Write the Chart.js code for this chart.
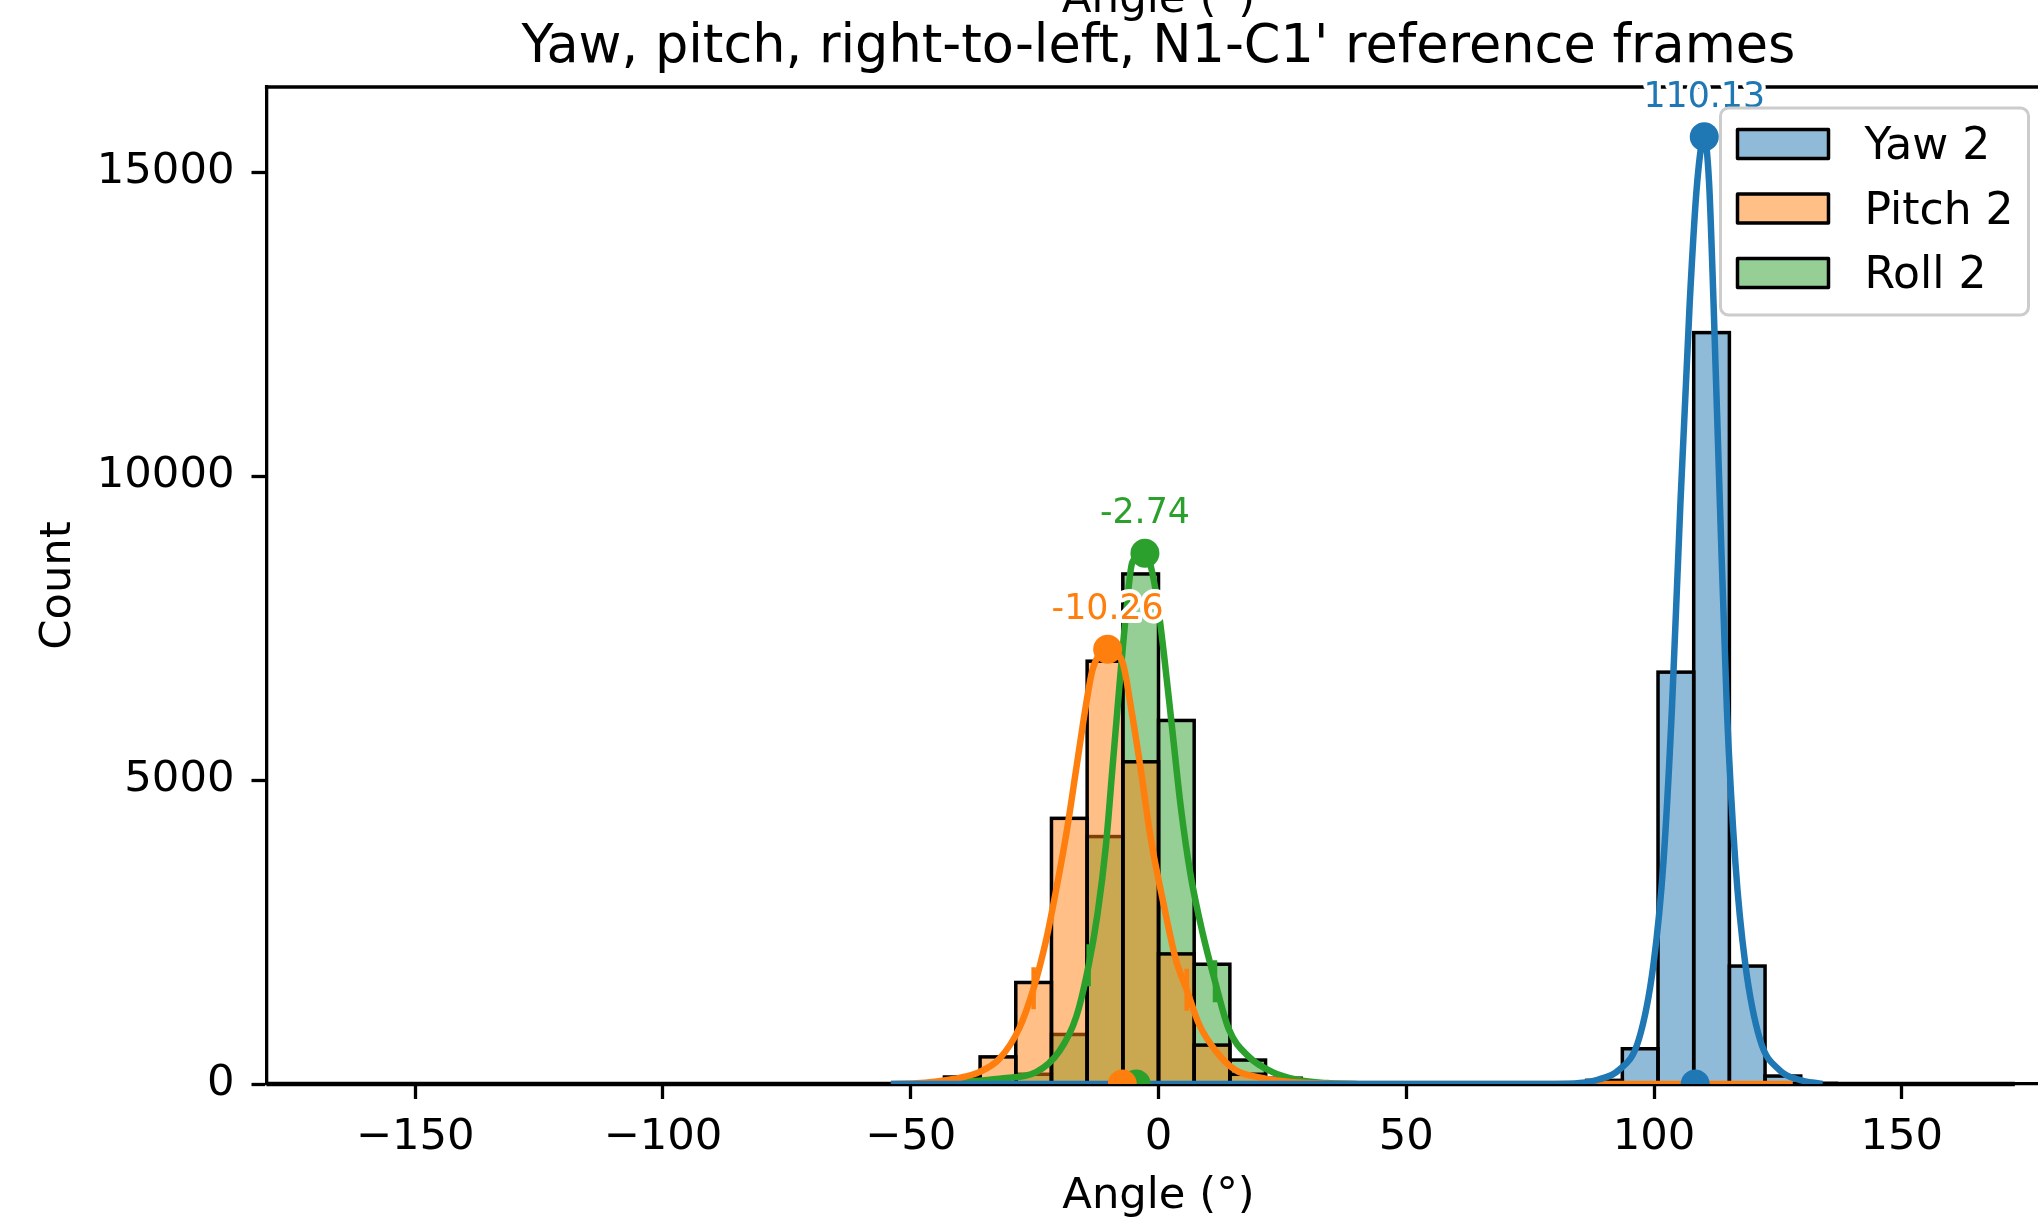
<!DOCTYPE html>
<html>
<head>
<meta charset="utf-8">
<title>Yaw, pitch, right-to-left, N1-C1' reference frames</title>
<script src="https://cdn.jsdelivr.net/npm/chart.js@4.4.1/dist/chart.umd.min.js"></script>
<style>
  html, body { margin: 0; padding: 0; background: #fff; overflow: hidden; }
  #wrap { width: 2076px; height: 1223px; }
  canvas { display: block; }
</style>
</head>
<body>
<div id="wrap"><canvas id="chart" width="2076" height="1223" style="width:2076px;height:1223px"></canvas></div>
<script>
// histogram bins (start of each bin, 7.2 deg wide)
var binWidth = 7.2;
var histRange = [-180, 172.8];

var yawBins = [86.4, 93.6, 100.8, 108, 115.2, 122.4, 129.6];
var yawCounts = [60, 580, 6775, 12360, 1940, 131, 10];

var pitchBins = [-50.4, -43.2, -36, -28.8, -21.6, -14.4, -7.2, 0, 7.2, 14.4, 21.6];
var pitchCounts = [10, 115, 446, 1670, 4370, 6955, 5300, 2140, 640, 160, 30];

var rollBins = [-43.2, -36, -28.8, -21.6, -14.4, -7.2, 0, 7.2, 14.4, 21.6, 28.8];
var rollCounts = [5, 25, 160, 815, 4070, 8390, 5980, 1970, 394, 95, 10];

// kde curves
var yawKdeX = [-54, 80, 85, 88.8, 92.8, 96.9, 99.9, 101.9, 103.6, 105.3, 107.2, 108.7, 110.13, 111.1, 112.0, 113.3, 114.7, 116.4, 118.4, 121.4, 125.4, 129.1, 134];
var yawKdeY = [0, 0, 15, 74, 223, 725, 1980, 3654, 6164, 9513, 12859, 14830, 15580, 14830, 12859, 9513, 6164, 3654, 1980, 725, 223, 74, 0];

var pitchKdeX = [-54, -48, -44, -40.2, -36.2, -32.1, -28.1, -25.2, -22.7, -20.7, -18.6, -16.6, -14.6, -13.3, -10.26, -7.3, -5.3, -3.6, -1.6, 0.8, 3.5, 5.7, 8.2, 11.6, 15.6, 20.3, 24.3, 30, 40, 128];
var pitchKdeY = [0, 15, 50, 100, 195, 415, 917, 1575, 2360, 3175, 4117, 5185, 6252, 6817, 7150, 6943, 6064, 5185, 4055, 3051, 2047, 1550, 979, 540, 226, 110, 55, 15, 2, 0];

var rollKdeX = [-45, -40.2, -32.1, -24.7, -20.0, -16.6, -14.1, -12.3, -10.6, -9.3, -8.0, -6.6, -5.3, -2.74, -0.6, 1.1, 2.8, 4.5, 6.5, 8.9, 11.4, 14.2, 18.2, 22.9, 28, 34, 40];
var rollKdeY = [0, 30, 88, 195, 540, 1105, 1952, 2800, 3930, 5185, 6440, 7696, 8575, 8730, 8135, 7069, 5813, 4556, 3428, 2485, 1690, 900, 450, 200, 70, 15, 0];

// peaks [angle, count], bottom marks, and the short marks on the curves
var yawPeak = [110.13, 15580];
var pitchPeak = [-10.26, 7150];
var rollPeak = [-2.74, 8730];
var yawMid = 108.3, pitchMid = -7.3, rollMid = -4.5;
var pitchMarksX = [-25.2, 5.7], pitchMarksY = [1575, 1550];
var rollMarksX = [-14.1, 11.4], rollMarksY = [1952, 1690];

var xTicks = [-150, -100, -50, 0, 50, 100, 150];
var yTicks = [0, 5000, 10000, 15000];
var yMax = 16400;

var blue = '#1f77b4', orange = '#ff7f0e', green = '#2ca02c';
var FONT = 'DejaVu Sans';

function bins(starts, counts) {
	return starts.map(function (s, i) { return {x: s + binWidth / 2, y: counts[i]}; });
}
function pts(xs, ys) {
	return xs.map(function (x, i) { return {x: x, y: ys[i]}; });
}
function fade(hex) {
	var n = parseInt(hex.slice(1), 16);
	return 'rgba(' + (n >> 16) + ',' + ((n >> 8) & 255) + ',' + (n & 255) + ',0.5)';
}
function barSet(label, starts, counts, color, order) {
	return {
		type: 'bar', label: label, data: bins(starts, counts),
		backgroundColor: fade(color), borderWidth: 0, hist: true,
		grouped: false, barPercentage: 1, categoryPercentage: 1, order: order
	};
}
function kdeSet(xs, ys, color, order) {
	return {
		type: 'line', data: pts(xs, ys), borderColor: color, borderWidth: 6.5,
		pointRadius: 0, cubicInterpolationMode: 'monotone', fill: false, order: order
	};
}
function dotSet(points, color, peak) {
	return {
		type: 'line', data: points, showLine: false, pointRadius: 14.5,
		pointBackgroundColor: color, pointBorderWidth: 0, clip: 0, order: 0, peak: peak
	};
}
function markSet(xs, ys, color) {
	return {
		type: 'line', data: pts(xs, ys), showLine: false, pointStyle: 'line',
		pointRotation: 90, pointRadius: 21, pointBorderWidth: 4.5, pointBorderColor: color, order: 0
	};
}

var extras = {
	id: 'extras',
	afterDatasetDraw: function (chart, args) {
		var ds = chart.data.datasets[args.index];
		if (!ds.hist) return;
		var ctx = chart.ctx;
		ctx.save();
		ctx.strokeStyle = '#000';
		ctx.lineWidth = 3.5;
		args.meta.data.forEach(function (bar) {
			var p = bar.getProps(['x', 'y', 'base', 'width'], true);
			ctx.strokeRect(p.x - p.width / 2, p.y, p.width, p.base - p.y);
		});
		ctx.restore();
	},
	afterDraw: function (chart) {
		var ctx = chart.ctx, a = chart.chartArea;
		var xs = chart.scales.x, ys = chart.scales.y;
		var cx = (a.left + a.right) / 2;
		ctx.save();
		// top spine
		ctx.strokeStyle = '#000';
		ctx.lineWidth = 3.3;
		ctx.beginPath();
		ctx.moveTo(a.left - 1.6, a.top);
		ctx.lineTo(a.right, a.top);
		ctx.stroke();

		ctx.fillStyle = '#000';
		ctx.textAlign = 'center';
		ctx.textBaseline = 'alphabetic';
		ctx.font = '43.5px "' + FONT + '"';
		ctx.fillText('Angle (°)', cx, 12);
		ctx.font = '52.5px "' + FONT + '"';
		ctx.fillText("Yaw, pitch, right-to-left, N1-C1' reference frames", cx, 62);

		// peak labels
		ctx.font = '34.8px "' + FONT + '"';
		ctx.lineJoin = 'round';
		chart.data.datasets.forEach(function (ds) {
			if (!ds.peak) return;
			var px = xs.getPixelForValue(ds.data[0].x);
			var py = ys.getPixelForValue(ds.data[0].y) - 30;
			var txt = ds.data[0].x.toFixed(2);
			ctx.strokeStyle = '#fff';
			ctx.lineWidth = 8;
			ctx.strokeText(txt, px, py);
			ctx.fillStyle = ds.pointBackgroundColor;
			ctx.fillText(txt, px, py);
		});

		// legend
		var right = a.right - 22, top = a.top + 21;
		var left = right - 308, bottom = top + 207;
		ctx.beginPath();
		ctx.roundRect(left, top, right - left, bottom - top, 8);
		ctx.fillStyle = 'rgba(255,255,255,0.8)';
		ctx.fill();
		ctx.strokeStyle = '#cccccc';
		ctx.lineWidth = 3;
		ctx.stroke();
		ctx.font = '44px "' + FONT + '"';
		ctx.textAlign = 'left';
		var row = 0;
		chart.data.datasets.forEach(function (ds) {
			if (!ds.hist) return;
			var mid = top + 36 + row * 64.5;
			ctx.fillStyle = ds.backgroundColor;
			ctx.fillRect(left + 17, mid - 14.5, 91, 29);
			ctx.strokeStyle = '#000';
			ctx.lineWidth = 3.5;
			ctx.strokeRect(left + 17, mid - 14.5, 91, 29);
			ctx.fillStyle = '#000';
			ctx.fillText(ds.label, left + 144, mid + 15);
			row++;
		});
		ctx.restore();
	}
};

var tickFont = {family: FONT, size: 43.3};

new Chart(document.getElementById('chart'), {
	type: 'bar',
	data: {
		datasets: [
			barSet('Yaw 2', yawBins, yawCounts, blue, 7),
			barSet('Pitch 2', pitchBins, pitchCounts, orange, 5),
			barSet('Roll 2', rollBins, rollCounts, green, 6),
			{
				type: 'line', data: pts(histRange, [0, 0]), borderColor: '#000', borderWidth: 4.5,
				pointRadius: 0, clip: 4, order: 4
			},
			kdeSet(yawKdeX, yawKdeY, blue, 1),
			kdeSet(pitchKdeX, pitchKdeY, orange, 2),
			kdeSet(rollKdeX, rollKdeY, green, 3),
			dotSet([{x: yawPeak[0], y: yawPeak[1]}], blue, true),
			dotSet([{x: pitchPeak[0], y: pitchPeak[1]}], orange, true),
			dotSet([{x: rollPeak[0], y: rollPeak[1]}], green, true),
			dotSet([{x: yawMid, y: 0}], blue, false),
			dotSet([{x: pitchMid, y: 0}], orange, false),
			dotSet([{x: rollMid, y: 0}], green, false),
			markSet(pitchMarksX, pitchMarksY, orange),
			markSet(rollMarksX, rollMarksY, green)
		]
	},
	options: {
		responsive: false,
		animation: false,
		layout: {padding: {top: 87, right: 8, left: 0, bottom: 0}},
		plugins: {legend: {display: false}, tooltip: {enabled: false}},
		scales: {
			x: {
				type: 'linear', min: -180, max: 180, offset: false,
				afterBuildTicks: function (s) { s.ticks = xTicks.map(function (v) { return {value: v}; }); },
				afterFit: function (s) { s.height = 139; },
				ticks: {
					font: tickFont, color: '#000', padding: 13, maxRotation: 0, autoSkip: false,
					callback: function (v) { return v < 0 ? '\u2212' + Math.abs(v) : String(v); }
				},
				grid: {offset: false, drawOnChartArea: false, tickLength: 15, tickWidth: 3.3, tickColor: '#000'},
				border: {color: '#000', width: 3.3},
				title: {display: true, text: 'Angle (°)', font: tickFont, color: '#000', padding: {top: 0, bottom: 0}}
			},
			y: {
				min: 0, max: yMax,
				afterBuildTicks: function (s) { s.ticks = yTicks.map(function (v) { return {value: v}; }); },
				afterFit: function (s) { s.width = 266.5; },
				ticks: {font: tickFont, color: '#000', padding: 17, callback: function (v) { return String(v); }},
				grid: {drawOnChartArea: false, tickLength: 15, tickWidth: 3.3, tickColor: '#000'},
				border: {color: '#000', width: 3.3},
				title: {display: true, text: 'Count', font: tickFont, color: '#000', padding: {top: 32.5, bottom: 0}}
			}
		}
	},
	plugins: [extras]
});
</script>
</body>
</html>
